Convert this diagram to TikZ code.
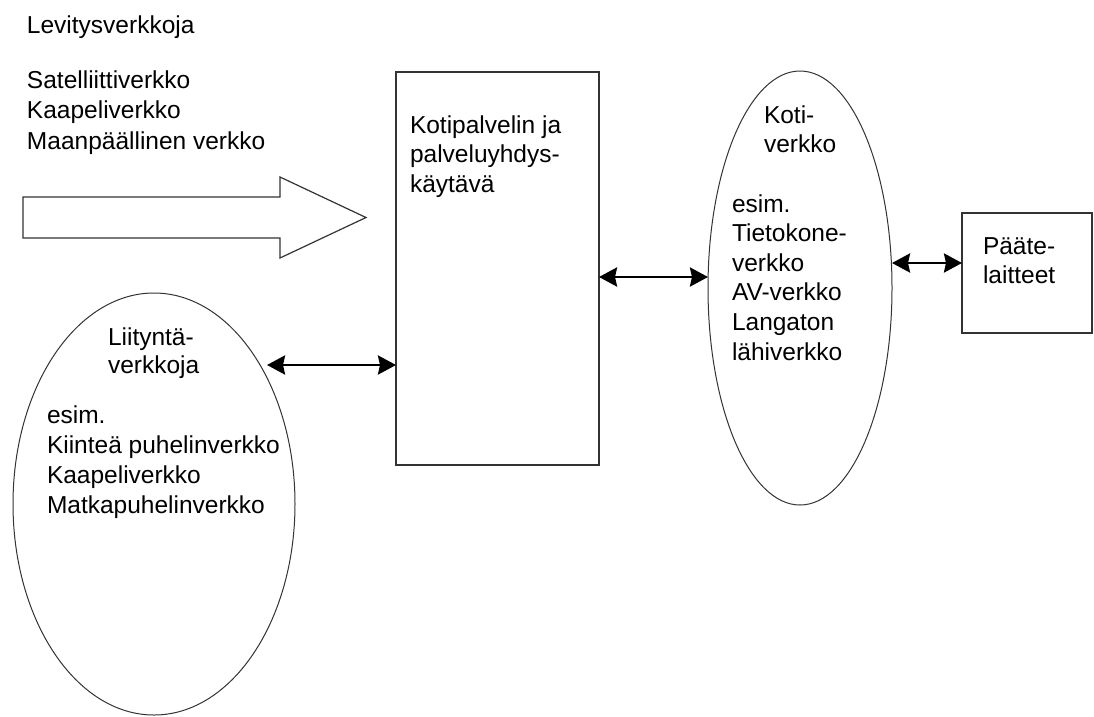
\documentclass[tikz,border=0pt]{standalone}
\usepackage{fontspec}
\setmainfont{Liberation Sans}
\usetikzlibrary{arrows.meta,shapes.geometric}
\begin{document}
\begin{tikzpicture}[x=1pt,y=-1pt,
  every node/.style={inner sep=0pt, outer sep=0pt},
  % multi-line labels are placed by the baseline of their last line
  lbl/.style={anchor=base west, align=left, font=\fontsize{24.5}{#1}\selectfont},
  lbl/.default=29.8,
  frame/.style={draw=black!80, line width=1.3pt},
  ring/.style={ellipse, draw=black!80, line width=1pt},
  link/.style={line width=2.8pt,
    {Stealth[length=18pt,width=19pt,inset=2pt]}-{Stealth[length=18pt,width=19pt,inset=2pt]}}
]
\useasboundingbox[fill=white] (0,0) rectangle (1094,716);

% broadcast networks
\node[lbl] (bcast) at (27,33) {Levitysverkkoja};
\node[lbl=30.5] (bcastlist) at (27,149) {Satelliittiverkko\\Kaapeliverkko\\Maanpäällinen verkko};

% hollow block arrow
\draw[draw=black!80, line width=1.2pt, line join=miter]
  (23,197) -- (280,197) -- (280,177) -- (366,217.5) -- (280,258) -- (280,238) -- (23,238) -- cycle;

% home server / service gateway
\node[frame, minimum width=203pt, minimum height=393pt] (srv) at (497.5,268.5) {};
\node[lbl=29.5] (srvtxt) at (410,192) {Kotipalvelin ja\\palveluyhdys-\\käytävä};

% access networks
\node[ring, minimum width=282pt, minimum height=422pt] (acc) at (154,504) {};
\node[lbl=28] (acctitle) at (108,373) {Liityntä-\\verkkoja};
\node[lbl=30] (acclist) at (47,513) {esim.\\Kiinteä puhelinverkko\\Kaapeliverkko\\Matkapuhelinverkko};

% home network
\node[ring, minimum width=184pt, minimum height=434pt] (home) at (800,288) {};
\node[lbl=29] (hometitle) at (764,152) {Koti-\\verkko};
\node[lbl=29.6] (homelist) at (732,360) {esim.\\Tietokone-\\verkko\\AV-verkko\\Langaton\\lähiverkko};

% terminals
\node[frame, minimum width=130pt, minimum height=120pt] (term) at (1027,273) {};
\node[lbl=29] (termtxt) at (983,283) {Pääte-\\laitteet};

% connectors
\coordinate (accend) at (267,365);
\draw[link] (accend) -- (srv.west |- accend);
\coordinate (srvend) at (srv.east |- 0,277);
\draw[link] (srvend) -- (home.west |- srvend);
\coordinate (homeend) at (home.east |- 0,263);
\draw[link] (homeend) -- (term.west |- homeend);
\end{tikzpicture}
\end{document}
